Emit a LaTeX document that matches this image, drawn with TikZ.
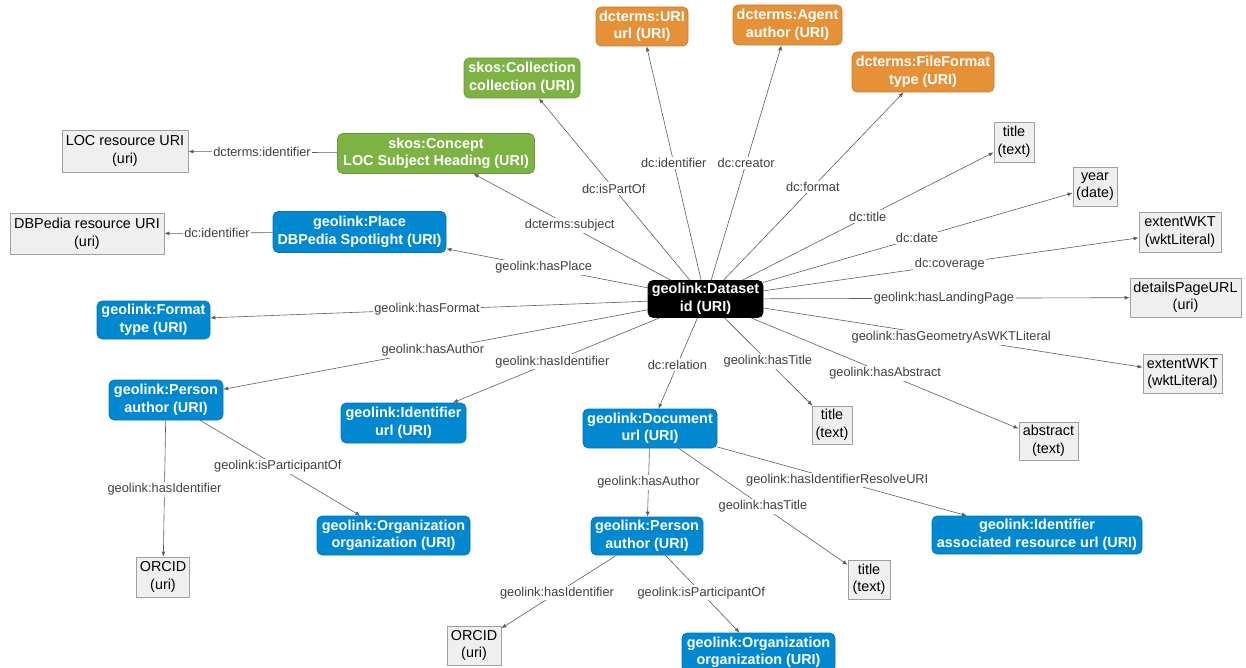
\documentclass[tikz,border=0pt]{standalone}
\usepackage{fontspec}
\setmainfont{Liberation Sans}
\usetikzlibrary{calc,arrows.meta}
\definecolor{orangeC}{HTML}{E69138}
\definecolor{greenC}{HTML}{7CB342}
\definecolor{blueC}{HTML}{0288D1}
\definecolor{grayfill}{HTML}{EFEFEF}
\definecolor{grayborder}{HTML}{A0A0A0}
\definecolor{edgeC}{HTML}{5E5E5E}
\definecolor{labelC}{HTML}{404040}
\begin{document}
\begin{tikzpicture}[x=1pt,y=-1pt,
  box/.style={rectangle, align=center, inner xsep=3pt, inner ysep=2pt},
  cbox/.style={box, rounded corners=5pt, text=white,
    font=\bfseries\fontsize{14.4}{17.5}\selectfont,
    draw=#1!85!black, fill=#1, line width=0.6pt},
  orangebox/.style={cbox=orangeC},
  greenbox/.style={cbox=greenC},
  bluebox/.style={cbox=blueC},
  blackbox/.style={cbox=black},
  graybox/.style={box, fill=grayfill, draw=grayborder, line width=0.8pt,
    text=black, font=\fontsize{14.4}{17.5}\selectfont},
  edge/.style={draw=edgeC, line width=0.6pt, -{Latex[length=5pt,width=4pt]}},
  lbl/.style={fill=white, text=labelC, inner sep=1.5pt,
    font=\fontsize{12.8}{14}\selectfont},
  sz/.style 2 args={minimum width=#1pt, minimum height=#2pt}
]
\useasboundingbox (0,0) rectangle (1246,668);

% ---------- nodes ----------
\node[blackbox, sz={115}{37}] (ds) at (705.5,299) {geolink:Dataset\\id (URI)};

\node[orangebox, sz={92}{39}] (uri) at (642,26.5) {dcterms:URI\\url (URI)};
\node[orangebox, sz={109}{40}] (agent) at (787.5,25) {dcterms:Agent\\author (URI)};
\node[orangebox, sz={142}{40}] (ff) at (923,72) {dcterms:FileFormat\\type (URI)};

\node[greenbox, sz={116}{40}] (coll) at (522,78) {skos:Collection\\collection (URI)};
\node[greenbox, sz={197}{40}] (concept) at (436,153.5) {skos:Concept\\LOC Subject Heading (URI)};

\node[bluebox, sz={173}{41}] (place) at (359.5,232) {geolink:Place\\DBPedia Spotlight (URI)};
\node[bluebox, sz={113}{38}] (format) at (153.5,320) {geolink:Format\\type (URI)};
\node[bluebox, sz={114}{40}] (personL) at (166,400) {geolink:Person\\author (URI)};
\node[bluebox, sz={125}{40}] (identL) at (403.5,423) {geolink:Identifier\\url (URI)};
\node[bluebox, sz={153}{39}] (orgL) at (393.5,535.5) {geolink:Organization\\organization (URI)};
\node[bluebox, sz={134}{39}] (doc) at (650,428.5) {geolink:Document\\url (URI)};
\node[bluebox, sz={112}{38}] (personC) at (647,536) {geolink:Person\\author (URI)};
\node[bluebox, sz={153}{39}] (orgB) at (758.5,652.5) {geolink:Organization\\organization (URI)};
\node[bluebox, sz={210}{38}] (identR) at (1037,535) {geolink:Identifier\\associated resource url (URI)};

\node[graybox, sz={126}{42}] (loc) at (125,151) {LOC resource URI\\(uri)};
\node[graybox, sz={154}{41}] (dbp) at (87,234) {DBPedia resource URI\\(uri)};
\node[graybox, sz={40}{40}] (ttl1) at (1014,142) {title\\(text)};
\node[graybox, sz={44}{39}] (year) at (1095,186.5) {year\\(date)};
\node[graybox, sz={82}{40}] (ext1) at (1180,232) {extentWKT\\(wktLiteral)};
\node[graybox, sz={111}{39}] (land) at (1185.5,297.5) {detailsPageURL\\(uri)};
\node[graybox, sz={79}{39}] (ext2) at (1182.5,373.5) {extentWKT\\(wktLiteral)};
\node[graybox, sz={40}{38}] (ttl2) at (832,425) {title\\(text)};
\node[graybox, sz={59}{38}] (abs) at (1048.5,441) {abstract\\(text)};
\node[graybox, sz={42}{39}] (ttl3) at (869,579.5) {title\\(text)};
\node[graybox, sz={52}{40}] (orcidL) at (163,577) {ORCID\\(uri)};
\node[graybox, sz={54}{39}] (orcidB) at (474,645.5) {ORCID\\(uri)};

% ---------- connectors ----------
\draw[edge] (ds) -- (uri);
\draw[edge] (ds) -- (agent);
\draw[edge] (ds) -- (ff);
\draw[edge] (ds) -- (coll);
\draw[edge] (ds) -- (concept);
\draw[edge] (ds) -- (place);
\draw[edge] (ds) -- (format);
\draw[edge] (ds) -- (personL);
\draw[edge] (ds) -- (identL);
\draw[edge] (ds) -- (doc);
\draw[edge] (ds) -- (ttl2);
\draw[edge] (ds) -- (abs);
\draw[edge] (ds) -- (ext2);
\draw[edge] (ds) -- (land);
\draw[edge] (ds) -- (ext1);
\draw[edge] (ds) -- (year);
\draw[edge] (ds) -- (ttl1);
\draw[edge] (concept) -- (loc);
\draw[edge] (place) -- (dbp);
\draw[edge] (personL) -- (orcidL);
\draw[edge] (personL) -- (orgL);
\draw[edge] (doc) -- (personC);
\draw[edge] (doc) -- (ttl3);
\draw[edge] (doc) -- (identR);
\draw[edge] (personC) -- (orcidB);
\draw[edge] (personC) -- (orgB);

% ---------- connector labels ----------
\node[lbl] (l1) at ($(ds)!(672.5,163)!(uri)$) {dc:identifier};
\node[lbl] (l2) at ($(ds)!(746,163)!(agent)$) {dc:creator};
\node[lbl] (l3) at ($(ds)!(813,187)!(ff)$) {dc:format};
\node[lbl] (l4) at ($(ds)!(613,189)!(coll)$) {dc:isPartOf};
\node[lbl] (l5) at ($(ds)!(569.5,226)!(concept)$) {dcterms:subject};
\node[lbl] (l6) at ($(ds)!(544,266)!(place)$) {geolink:hasPlace};
\node[lbl] (l7) at ($(ds)!(427,311)!(format)$) {geolink:hasFormat};
\node[lbl] (l8) at ($(ds)!(433,351)!(personL)$) {geolink:hasAuthor};
\node[lbl] (l9) at ($(ds)!(552,361)!(identL)$) {geolink:hasIdentifier};
\node[lbl] (l10) at ($(ds)!(676,364)!(doc)$) {dc:relation};
\node[lbl] (l11) at ($(ds)!(767,362)!(ttl2)$) {geolink:hasTitle};
\node[lbl] (l12) at ($(ds)!(884.5,375)!(abs)$) {geolink:hasAbstract};
\node[lbl] (l13) at ($(ds)!(951,339)!(ext2)$) {geolink:hasGeometryAsWKTLiteral};
\node[lbl] (l14) at ($(ds)!(944,299)!(land)$) {geolink:hasLandingPage};
\node[lbl] (l15) at ($(ds)!(950,266)!(ext1)$) {dc:coverage};
\node[lbl] (l16) at ($(ds)!(917,238)!(year)$) {dc:date};
\node[lbl] (l17) at ($(ds)!(868,217)!(ttl1)$) {dc:title};
\node[lbl] (l18) at ($(concept)!(262,153)!(loc)$) {dcterms:identifier};
\node[lbl] (l19) at ($(place)!(217,233.6)!(dbp)$) {dc:identifier};
\node[lbl] (l20) at ($(personL)!(162,489)!(orcidL)$) {geolink:hasIdentifier};
\node[lbl] (l21) at ($(personL)!(277,468)!(orgL)$) {geolink:isParticipantOf};
\node[lbl] (l22) at ($(doc)!(647,482)!(personC)$) {geolink:hasAuthor};
\node[lbl] (l23) at ($(doc)!(762.5,507)!(ttl3)$) {geolink:hasTitle};
\node[lbl] (l24) at ($(doc)!(837,481)!(identR)$) {geolink:hasIdentifierResolveURI};
\node[lbl] (l25) at ($(personC)!(557,593)!(orcidB)$) {geolink:hasIdentifier};
\node[lbl] (l26) at ($(personC)!(701,593)!(orgB)$) {geolink:isParticipantOf};
\end{tikzpicture}
\end{document}
